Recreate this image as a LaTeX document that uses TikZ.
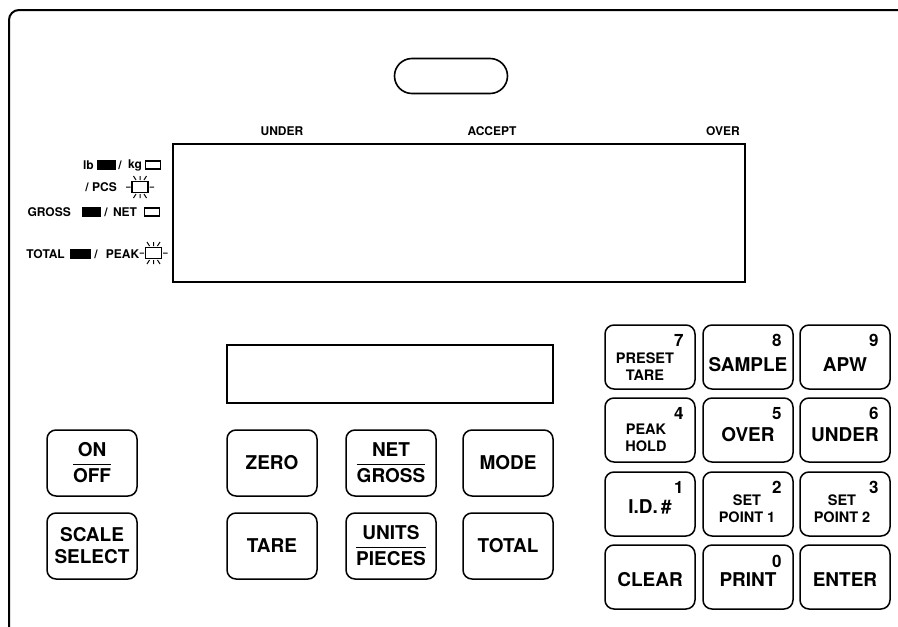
\documentclass[tikz,border=0pt]{standalone}
\usepackage{amsmath}
\usepackage{fontspec}
\setmainfont{TeX Gyre Heros}
\usetikzlibrary{positioning}

\newcommand{\keyfrac}[2]{$\genfrac{}{}{1.3pt}{0}{\text{#1}}{\text{#2}}$}

\tikzset{
	key/.style={draw,line width=1.5pt,rounded corners=9pt,minimum width=90pt,minimum height=66pt,inner sep=0pt,align=center,font=\fontsize{19}{22}\selectfont\bfseries},
	padkey/.style={key,minimum height=64pt},
	small/.style={inner sep=0pt,align=center,font=\fontsize{14.5}{17}\selectfont\bfseries},
	big/.style={inner sep=0pt,font=\fontsize{19}{22}\selectfont\bfseries},
	digit/.style={inner sep=0pt,anchor=north east,font=\fontsize{17}{17}\selectfont\bfseries},
	tag/.style={inner sep=0pt,font=\fontsize{12}{14}\selectfont\bfseries},
	lampon/.style={draw,line width=0.8pt,fill=black,minimum width=18pt,minimum height=9pt,inner sep=0pt},
	lampoff/.style={draw,line width=1.1pt,fill=white,minimum width=15pt,minimum height=8pt,inner sep=0pt},
	window/.style={draw,line width=1.8pt,inner sep=0pt},
	bulb/.pic={
		\draw[line width=1.1pt] (-8,-5.5) rectangle (8,5.5);
		\draw[line width=1pt] (0,-7) -- (0,-11) (-4,-7) -- (-6.5,-11) (4,-7) -- (6.5,-11)
			(0,7) -- (0,11) (-4,7) -- (-6.5,11) (4,7) -- (6.5,11)
			(-9.5,0) -- (-14,0) (9.5,0) -- (14,0);
	}
}

\begin{document}
\begin{tikzpicture}[x=1pt,y=-1pt]
	\useasboundingbox (0,0) rectangle (898,627);
	% panel edge
	\draw[line width=2pt,rounded corners=10pt] (9,640) -- (9,10) -- (910,10);
	\node[draw,line width=1.6pt,rounded corners=17.5pt,minimum width=113pt,minimum height=35pt] (handle) at (451,76) {};

	% main display
	\node[window,minimum width=572pt,minimum height=138pt] (lcd) at (459,213) {};
	\node[tag] (under) at (282,131) {UNDER};
	\node[tag] (accept) at (492,131) {ACCEPT};
	\node[tag] (over) at (723,131) {OVER};

	% indicators
	\node[tag,anchor=east] (lb) at (94,165) {lb};
	\node[lampon] (lbon) at (106,165) {};
	\node[tag] (sl1) at (120,165) {/};
	\node[tag] (kg) at (135,165) {kg};
	\node[lampoff] (kgoff) at (153,165) {};
	\node[tag,anchor=east] (pcs) at (117,187) {/ PCS};
	\pic at (140,187) {bulb};
	\node[tag,anchor=east] (gross) at (71,212) {GROSS};
	\node[lampon] (grosson) at (91,211.5) {};
	\node[tag] (sl2) at (106,212) {/};
	\node[tag] (net) at (125,212) {NET};
	\node[lampoff] (netoff) at (152,212) {};
	\node[tag,anchor=east] (total) at (65,254) {TOTAL};
	\node[lampon,minimum width=20pt] (totalon) at (80,253.5) {};
	\node[tag] (sl3) at (96,254) {/};
	\node[tag,anchor=east] (peak) at (139.5,254) {PEAK};
	\pic at (153.5,253) {bulb};

	% second display
	\node[window,minimum width=326pt,minimum height=58pt] (lcdsmall) at (390,374) {};

	% function keys
	\node[key] (onoff) at (92,463) {\keyfrac{ON}{OFF}};
	\node[key] (scale) at (92,546) {SCALE\\SELECT};
	\node[key] (zero) at (272,463) {ZERO};
	\node[key] (tare) at (272,546) {TARE};
	\node[key] (netgross) at (391,463) {\keyfrac{NET}{GROSS}};
	\node[key] (units) at (391,546) {\keyfrac{UNITS}{PIECES}};
	\node[key] (mode) at (508,463) {MODE};
	\node[key] (totalkey) at (508,546) {TOTAL};

	% keypad
	\node[padkey] (k7) at (650,357) {};
	\node[padkey] (k8) at (748,357) {};
	\node[padkey] (k9) at (845,357) {};
	\node[padkey] (k4) at (650,430) {};
	\node[padkey] (k5) at (748,430) {};
	\node[padkey] (k6) at (845,430) {};
	\node[padkey] (k1) at (650,504) {};
	\node[padkey] (k2) at (748,504) {};
	\node[padkey] (k3) at (845,504) {};
	\node[padkey] (kclear) at (650,577) {};
	\node[padkey] (k0) at (748,577) {};
	\node[padkey] (kenter) at (845,577) {};

	\node[small] (preset) at ([xshift=-5pt,yshift=-10pt]k7.center) {PRESET\\TARE};
	\node[big] (sample) at ([yshift=-8pt]k8.center) {SAMPLE};
	\node[big] (apw) at ([yshift=-8pt]k9.center) {APW};
	\node[small] (peakhold) at ([xshift=-4pt,yshift=-8pt]k4.center) {PEAK\\HOLD};
	\node[big] (overkey) at ([yshift=-5pt]k5.center) {OVER};
	\node[big] (underkey) at ([yshift=-5pt]k6.center) {UNDER};
	\node[big] (id) at ([yshift=-3pt]k1.center) {I.D.\,\#};
	\node[small] (sp1) at ([xshift=-1pt,yshift=-5pt]k2.center) {SET\\POINT 1};
	\node[small] (sp2) at ([xshift=-3pt,yshift=-5pt]k3.center) {SET\\POINT 2};
	\node[big] (clear) at ([yshift=-3pt]kclear.center) {CLEAR};
	\node[big] (print) at ([yshift=-3pt]k0.center) {PRINT};
	\node[big] (enter) at ([yshift=-3pt]kenter.center) {ENTER};

	\node[digit] at ([xshift=-12pt,yshift=-10pt]k7.north east) {7};
	\node[digit] at ([xshift=-12pt,yshift=-10pt]k8.north east) {8};
	\node[digit] at ([xshift=-12pt,yshift=-10pt]k9.north east) {9};
	\node[digit] at ([xshift=-12pt,yshift=-10pt]k4.north east) {4};
	\node[digit] at ([xshift=-12pt,yshift=-10pt]k5.north east) {5};
	\node[digit] at ([xshift=-12pt,yshift=-10pt]k6.north east) {6};
	\node[digit] at ([xshift=-12pt,yshift=-10pt]k1.north east) {1};
	\node[digit] at ([xshift=-12pt,yshift=-10pt]k2.north east) {2};
	\node[digit] at ([xshift=-12pt,yshift=-10pt]k3.north east) {3};
	\node[digit] at ([xshift=-12pt,yshift=-11pt]k0.north east) {0};
\end{tikzpicture}
\end{document}
